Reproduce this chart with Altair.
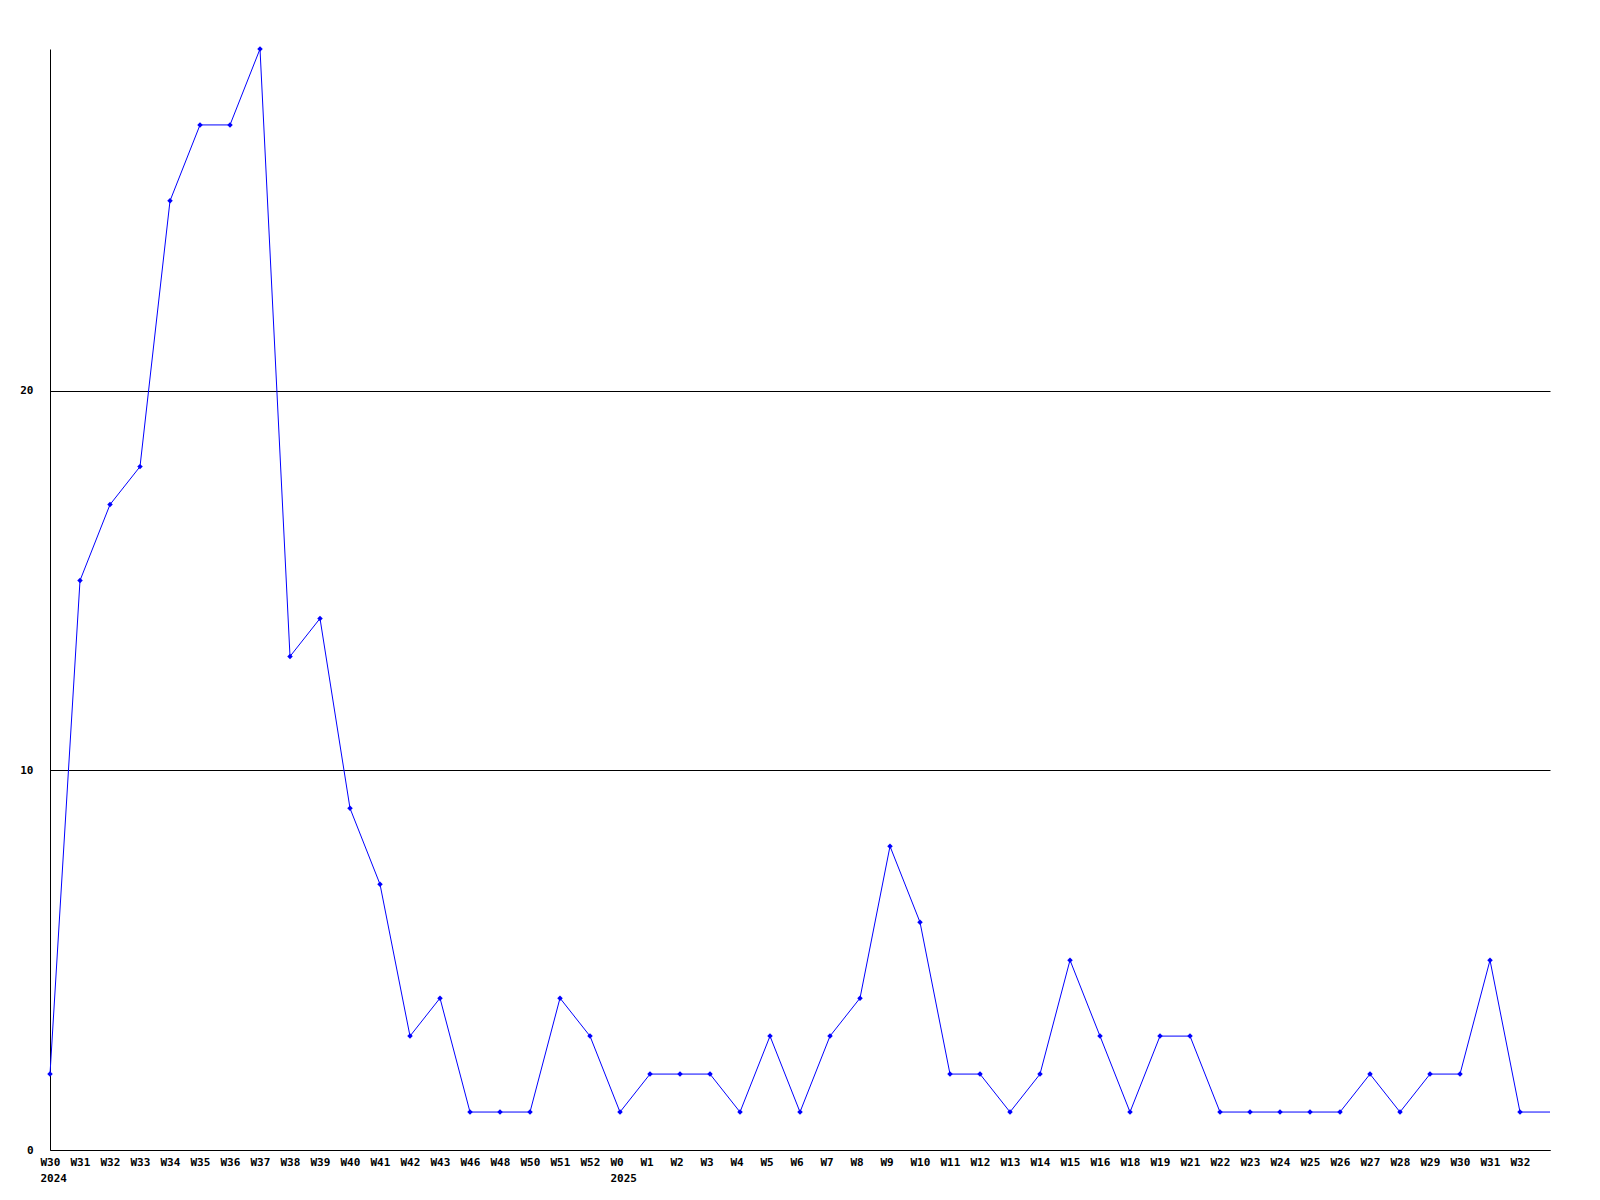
import json
import altair as alt
import pandas as pd

labels = ["W30", "W31", "W32", "W33", "W34", "W35", "W36", "W37", "W38", "W39",
          "W40", "W41", "W42", "W43", "W46", "W48", "W50", "W51", "W52", "W0",
          "W1", "W2", "W3", "W4", "W5", "W6", "W7", "W8", "W9", "W10",
          "W11", "W12", "W13", "W14", "W15", "W16", "W18", "W19", "W21", "W22",
          "W23", "W24", "W25", "W26", "W27", "W28", "W29", "W30", "W31", "W32"]
values = [2, 15, 17, 18, 25, 27, 27, 29, 13, 14,
          9, 7, 3, 4, 1, 1, 1, 4, 3, 1,
          2, 2, 2, 1, 3, 1, 3, 4, 8, 6,
          2, 2, 1, 2, 5, 3, 1, 3, 3, 1,
          1, 1, 1, 1, 2, 1, 2, 2, 5, 1]
trailing_value = 1  # line continues to the right edge without a marker
year_marks = {0: "2024", 19: "2025"}

rows = [{"idx": i, "value": v, "label": l, "marker": True}
        for i, (l, v) in enumerate(zip(labels, values))]
rows.append({"idx": len(labels), "value": trailing_value, "label": "", "marker": False})
df = pd.DataFrame(rows)

expr = json.dumps(labels) + "[datum.value]"
for k, y in year_marks.items():
    expr = f"datum.value == {k} ? [{json.dumps(labels[k])}, {json.dumps(y)}] : " + expr

FONT = "DejaVu Sans Mono"

x_enc = alt.X("idx:Q",
              scale=alt.Scale(domain=[0, len(labels)], nice=False, zero=False),
              axis=alt.Axis(values=list(range(len(labels))), labelExpr=expr, title=None,
                            grid=False, ticks=False, domainColor="black", domainWidth=1,
                            labelAlign="left", labelOffset=-10, labelBaseline="top",
                            labelPadding=6, labelLineHeight=16, labelFlush=False,
                            labelOverlap=False, labelBound=False, labelFont=FONT,
                            labelFontSize=11, labelFontWeight="bold", labelColor="black"))
y_enc = alt.Y("value:Q",
              scale=alt.Scale(domain=[0, 29], nice=False),
              axis=alt.Axis(values=[0, 10, 20], title=None, grid=True, gridColor="black",
                            gridOpacity=1, gridWidth=1, ticks=False, domainColor="black",
                            domainWidth=1, labelPadding=17, labelFont=FONT,
                            labelOverlap=False, labelFontSize=11, labelFontWeight="bold",
                            labelColor="black"))

base = alt.Chart(df)
line = base.mark_line(color="#0000ff", strokeWidth=1).encode(x=x_enc, y=y_enc)
pts = base.transform_filter("datum.marker").mark_point(
    shape="diamond", filled=True, color="#0000ff", size=30, opacity=1
).encode(x=x_enc, y=y_enc)

chart = (line + pts).properties(
    width=1500, height=1101,
    background="white",
    autosize=alt.AutoSizeParams(type="none"),
    padding={"left": 42, "top": 41, "right": 30, "bottom": 40},
).configure_view(strokeWidth=0, stroke="transparent").configure_axis(
    labelOverlap=False
)

chart.save("out.html", embed_options={"renderer": "svg", "actions": False})
